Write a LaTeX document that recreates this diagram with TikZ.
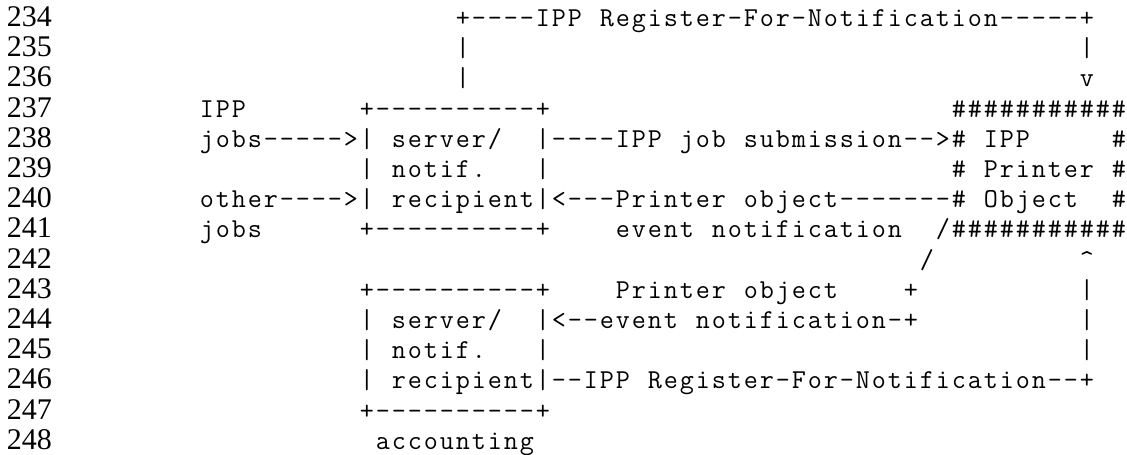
\documentclass[tikz,border=0pt]{standalone}
\usepackage{fontspec}
\newfontfamily\numfont{Liberation Serif}
\newfontfamily\asciifont{Latin Modern Mono}
\newcommand\courfont{\asciifont\fontsize{20.5}{22}\selectfont}
\newlength\cw
\setlength\cw{12pt}
\ExplSyntaxOn
\NewDocumentCommand\asciirow{m}{
  \str_map_inline:nn {#1} {
    \makebox[\cw][c]{ \str_if_eq:nnTF {##1}{@}{\#}{##1} }
  }
}
\ExplSyntaxOff
\tikzset{
  seg/.style={anchor=base west, inner sep=0pt, outer sep=0pt, font=\courfont},
  lnum/.style={anchor=base west, inner sep=0pt, outer sep=0pt, font=\numfont\fontsize{22.5}{26}\selectfont}
}
% row r, column c, text
\newcommand\seg[3]{\node[seg] (s#1-#2) at ({199+16*#2},{26.5+30.2*#1}) {\asciirow{#3}};}
\begin{document}
\begin{tikzpicture}[x=0.75pt,y=-0.75pt]
\useasboundingbox[fill=white] (0,0) rectangle (1127,454);
\foreach \r in {0,...,14}{
  \pgfmathtruncatemacro\n{234+\r}
  \node[lnum] (n\r) at (7,{26.5+30.2*\r}) {\n};
}
\seg{0}{16}{+----IPP Register-For-Notification-----+}
\seg{1}{16}{|}
\seg{1}{55}{|}
\seg{2}{16}{|}
\seg{2}{55}{v}
\seg{3}{0}{IPP}
\seg{3}{10}{+----------+}
\seg{3}{47}{@@@@@@@@@@@}
\seg{4}{0}{jobs----->| server/}
\seg{4}{21}{|----IPP job submission-->@ IPP}
\seg{4}{57}{@}
\seg{5}{10}{| notif.}
\seg{5}{21}{|}
\seg{5}{47}{@ Printer @}
\seg{6}{0}{other---->| recipient|<---Printer object-------@ Object}
\seg{6}{57}{@}
\seg{7}{0}{jobs}
\seg{7}{10}{+----------+}
\seg{7}{26}{event notification}
\seg{7}{46}{/@@@@@@@@@@@}
\seg{8}{45}{/}
\seg{8}{55}{^}
\seg{9}{10}{+----------+}
\seg{9}{26}{Printer object}
\seg{9}{44}{+}
\seg{9}{55}{|}
\seg{10}{10}{| server/}
\seg{10}{21}{|<--event notification-+}
\seg{10}{55}{|}
\seg{11}{10}{| notif.}
\seg{11}{21}{|}
\seg{11}{55}{|}
\seg{12}{10}{| recipient|--IPP Register-For-Notification--+}
\seg{13}{10}{+----------+}
\seg{14}{11}{accounting}
\end{tikzpicture}
\end{document}
